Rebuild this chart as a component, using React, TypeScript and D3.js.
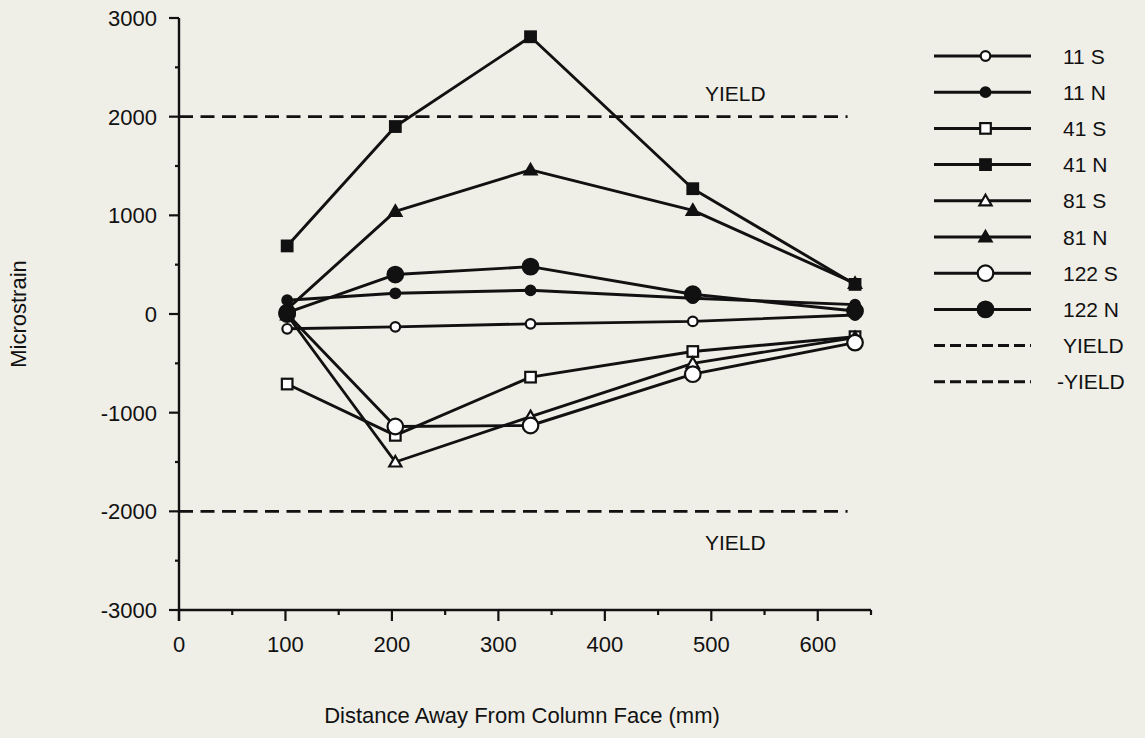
import React from "react";
import * as d3 from "d3";

// ---- data ----
const distances = [101.6, 203.2, 330.2, 482.6, 635];
const s11S = [-150, -130, -100, -75, -10];
const s11N = [140, 210, 240, 160, 95];
const s41S = [-710, -1230, -640, -380, -230];
const s41N = [690, 1900, 2810, 1270, 300];
const s81S = [-10, -1500, -1040, -500, -240];
const s81N = [50, 1040, 1460, 1050, 310];
const s122S = [0, -1140, -1130, -610, -290];
const s122N = [15, 400, 480, 200, 30];
const seriesNames = ["11 S", "11 N", "41 S", "41 N", "81 S", "81 N", "122 S", "122 N"];
const seriesMarkers = ["circleS", "circleS", "square", "square", "triangle", "triangle", "circleL", "circleL"];
const seriesFilled = [false, true, false, true, false, true, false, true];
const seriesValues = [s11S, s11N, s41S, s41N, s81S, s81N, s122S, s122N];
const yieldValue = 2000;
const yieldExtent = [0, 628];
const yieldLabels = ["YIELD", "-YIELD"];
const xTicks = [0, 100, 200, 300, 400, 500, 600];
const yTicks = [-3000, -2000, -1000, 0, 1000, 2000, 3000];
const xMinorTicks = [50, 150, 250, 350, 450, 550, 650];
const yMinorTicks = [-2500, -1500, -500, 500, 1500, 2500];

const W = 1145;
const H = 738;
const INK = "#111111";
const BG = "#efeee7";
const FONT = "Liberation Sans, Arial, Helvetica, sans-serif";

const x = d3.scaleLinear().domain([0, 650]).range([179, 871]);
const y = d3.scaleLinear().domain([-3000, 3000]).range([610, 18]);

function Marker({ kind, filled, cx, cy }: { kind: string; filled: boolean; cx: number; cy: number }) {
  const fill = filled ? INK : "#ffffff";
  const sw = 2.2;
  if (kind === "circleS") return <circle cx={cx} cy={cy} r={4.8} fill={fill} stroke={INK} strokeWidth={sw} />;
  if (kind === "circleL") return <circle cx={cx} cy={cy} r={7.8} fill={fill} stroke={INK} strokeWidth={sw} />;
  if (kind === "square") return <rect x={cx - 5.3} y={cy - 5.3} width={10.6} height={10.6} fill={fill} stroke={INK} strokeWidth={sw} />;
  const sym = d3.symbol().type(d3.symbolTriangle).size(64)();
  return <path d={sym || ""} transform={`translate(${cx},${cy + 1})`} fill={fill} stroke={INK} strokeWidth={sw} />;
}

export default function App() {
  const line = d3
    .line<[number, number]>()
    .x((d) => x(d[0]))
    .y((d) => y(d[1]));

  const legendX0 = 934;
  const legendX1 = 1031;
  const legendTextX = 1063;
  const legendY0 = 56;
  const legendStep = 36.2;

  return (
    <svg
      width={W}
      height={H}
      style={{ position: "absolute", left: 0, top: 0, background: BG }}
      fontFamily={FONT}
    >
      <rect x={0} y={0} width={W} height={H} fill={BG} />

      {/* axes */}
      <line x1={x(0)} x2={x(0)} y1={y(3000)} y2={y(-3000) + 11} stroke={INK} strokeWidth={2.4} />
      <line x1={x(0)} x2={x(650)} y1={y(-3000)} y2={y(-3000)} stroke={INK} strokeWidth={2.4} />
      {yTicks.map((t) => (
        <g key={"yt" + t}>
          <line x1={x(0) - 10} x2={x(0)} y1={y(t)} y2={y(t)} stroke={INK} strokeWidth={2.2} />
          <text x={x(0) - 22} y={y(t) + 8} textAnchor="end" fontSize={22} fill={INK}>
            {t}
          </text>
        </g>
      ))}
      {yMinorTicks.map((t) => (
        <line key={"ym" + t} x1={x(0) - 4} x2={x(0)} y1={y(t)} y2={y(t)} stroke={INK} strokeWidth={2.2} />
      ))}
      {xTicks.map((t) => (
        <g key={"xt" + t}>
          <line x1={x(t)} x2={x(t)} y1={y(-3000)} y2={y(-3000) + 11} stroke={INK} strokeWidth={2.2} />
          <text x={x(t)} y={y(-3000) + 42} textAnchor="middle" fontSize={22} fill={INK}>
            {t}
          </text>
        </g>
      ))}
      {xMinorTicks.map((t) => (
        <line key={"xm" + t} x1={x(t)} x2={x(t)} y1={y(-3000)} y2={y(-3000) + 5} stroke={INK} strokeWidth={2.2} />
      ))}

      <text x={(x(0) + x(650)) / 2 - 3} y={723} textAnchor="middle" fontSize={22} fill={INK}>
        Distance Away From Column Face (mm)
      </text>
      <text
        transform={`translate(26,${(y(3000) + y(-3000)) / 2}) rotate(-90)`}
        textAnchor="middle"
        fontSize={22}
        fill={INK}
      >
        Microstrain
      </text>

      {/* yield lines */}
      {[yieldValue, -yieldValue].map((v) => (
        <line
          key={"yl" + v}
          x1={x(yieldExtent[0])}
          x2={x(yieldExtent[1])}
          y1={y(v)}
          y2={y(v)}
          stroke={INK}
          strokeWidth={2.8}
          strokeDasharray="14,7.5"
        />
      ))}
      <text x={x(494)} y={y(yieldValue) - 16} fontSize={21} fill={INK}>
        {yieldLabels[0]}
      </text>
      <text x={x(494)} y={y(-yieldValue) + 39} fontSize={21} fill={INK}>
        {yieldLabels[0]}
      </text>

      {/* series */}
      {seriesValues.map((vals, i) => {
        const pts: [number, number][] = distances.map((d, j) => [d, vals[j]]);
        return (
          <g key={"s" + i}>
            <path d={line(pts) || ""} fill="none" stroke={INK} strokeWidth={2.9} strokeLinejoin="round" />
            {pts.map((p, j) => (
              <Marker key={j} kind={seriesMarkers[i]} filled={seriesFilled[i]} cx={x(p[0])} cy={y(p[1])} />
            ))}
          </g>
        );
      })}

      {/* legend */}
      {seriesNames.map((name, i) => {
        const ly = legendY0 + i * legendStep;
        return (
          <g key={"lg" + i}>
            <line x1={legendX0} x2={legendX1} y1={ly} y2={ly} stroke={INK} strokeWidth={3} />
            <Marker kind={seriesMarkers[i]} filled={seriesFilled[i]} cx={(legendX0 + legendX1) / 2 + 3} cy={ly} />
            <text x={legendTextX} y={ly + 7.5} fontSize={21} fill={INK}>
              {name}
            </text>
          </g>
        );
      })}
      {yieldLabels.map((name, k) => {
        const ly = legendY0 + (seriesNames.length + k) * legendStep;
        return (
          <g key={"ly" + k}>
            <line x1={legendX0} x2={legendX1} y1={ly} y2={ly} stroke={INK} strokeWidth={3} strokeDasharray="11,5" />
            <text x={k === 0 ? legendTextX : legendTextX - 6} y={ly + 7.5} fontSize={21} fill={INK}>
              {name}
            </text>
          </g>
        );
      })}
    </svg>
  );
}
